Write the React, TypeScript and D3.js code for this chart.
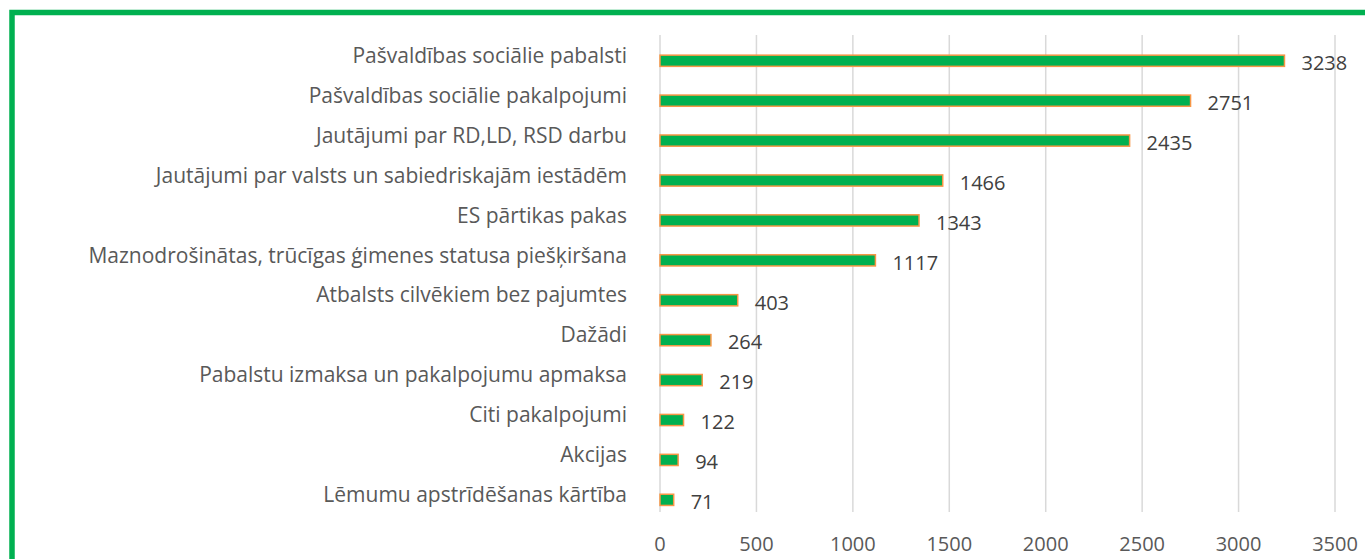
import React from "react";
import * as d3 from "d3";

const categories: string[] = [
  "Pašvaldības sociālie pabalsti",
  "Pašvaldības sociālie pakalpojumi",
  "Jautājumi par RD,LD, RSD darbu",
  "Jautājumi par valsts un sabiedriskajām iestādēm",
  "ES pārtikas pakas",
  "Maznodrošinātas, trūcīgas ģimenes statusa piešķiršana",
  "Atbalsts cilvēkiem bez pajumtes",
  "Dažādi",
  "Pabalstu izmaksa un pakalpojumu apmaksa",
  "Citi pakalpojumi",
  "Akcijas",
  "Lēmumu apstrīdēšanas kārtība",
];
const values: number[] = [3238, 2751, 2435, 1466, 1343, 1117, 403, 264, 219, 122, 94, 71];
const ticks: number[] = [0, 500, 1000, 1500, 2000, 2500, 3000, 3500];

const W = 1365;
const H = 559;
const FONT = "'Open Sans', sans-serif";
const TEXT = "#595959";

export default function App() {
  const x = d3.scaleLinear().domain([0, 3500]).range([660, 1335]);
  const y = d3.scaleBand<string>().domain(categories).range([35, 514]).padding(0);
  const bw = y.bandwidth();
  const gridTop = 35;
  const gridBottom = 512;

  return (
    <svg
      width={W}
      height={H}
      style={{ position: "absolute", left: 0, top: 0, background: "#fff" }}
    >
      <rect x={0} y={0} width={W} height={H} fill="#fff" />
      {/* frame */}
      <rect
        x={12}
        y={12.5}
        width={1400}
        height={600}
        fill="none"
        stroke="#00B050"
        strokeWidth={5.5}
      />
      {/* gridlines */}
      {ticks.map((t) => (
        <line
          key={"g" + t}
          x1={x(t)}
          x2={x(t)}
          y1={gridTop}
          y2={gridBottom}
          stroke="#D9D9D9"
          strokeWidth={1.5}
        />
      ))}
      {/* tick labels */}
      {ticks.map((t) => (
        <text
          key={"t" + t}
          x={x(t)}
          y={543}
          textAnchor="middle"
          dominantBaseline="central"
          fontFamily={FONT}
          fontSize={20}
          fill={TEXT}
        >
          {t}
        </text>
      ))}
      {/* bars */}
      {categories.map((c, i) => {
        const yc = (y(c) as number) + bw / 2 + 5.8;
        return (
          <g key={"b" + i}>
            <rect
              x={x(0)}
              y={yc - 5.6}
              width={x(values[i]) - x(0)}
              height={11.2}
              fill="#00B050"
              stroke="#F79646"
              strokeWidth={1.5}
            />
            <text
              x={x(values[i]) + 17}
              y={yc + 1.8}
              dominantBaseline="central"
              fontFamily={FONT}
              fontSize={20}
              fill="#404040"
            >
              {values[i]}
            </text>
            <text
              x={627}
              y={(y(c) as number) + bw / 2}
              textAnchor="end"
              dominantBaseline="central"
              fontFamily={FONT}
              fontSize={21}
              fill={TEXT}
            >
              {c}
            </text>
          </g>
        );
      })}
    </svg>
  );
}
